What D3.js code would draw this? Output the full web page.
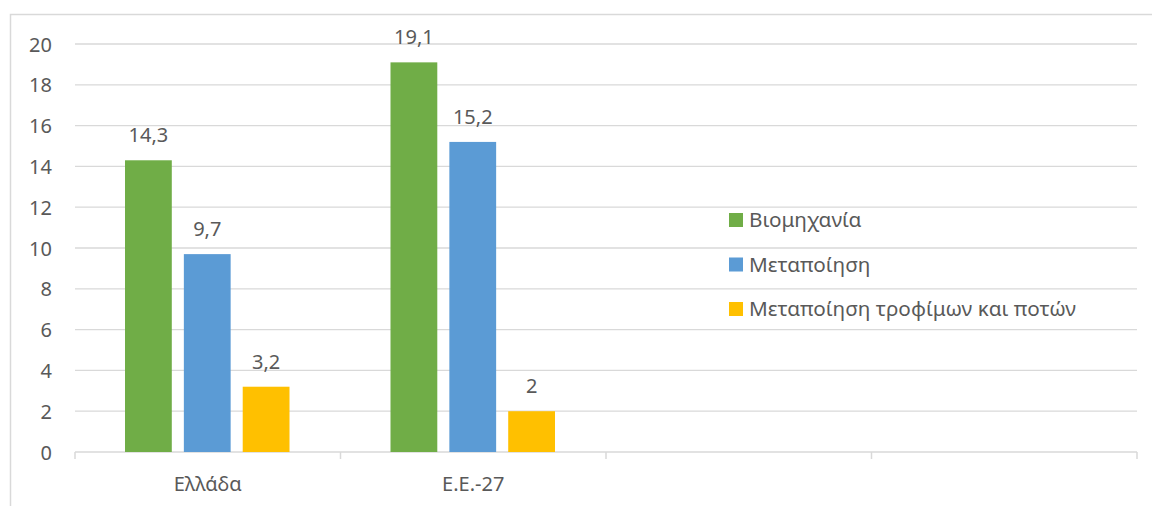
<!DOCTYPE html>
<html>
<head>
<meta charset="utf-8">
<script src="https://cdn.jsdelivr.net/npm/d3@7"></script>
<style type="text/css">
	body { margin:0; background:#fff; }
	svg text { font-family: "Noto Sans", sans-serif; fill:#595959; }
</style>
</head>
<body>
<svg id="chartSvg" width="1152" height="506"></svg>
<script type="text/javascript">
	// categories on the x axis (last two bands are empty in the original)
	var categories = ["Ελλάδα", "Ε.Ε.-27", "", " "];
	var seriesNames = ["Βιομηχανία", "Μεταποίηση", "Μεταποίηση τροφίμων και ποτών"];
	var seriesColors = ["#70ad47", "#5b9bd5", "#ffc000"];
	var biomixania = [14.3, 19.1];
	var metapoiisi = [9.7, 15.2];
	var trofima = [3.2, 2];
	var yTicks = [0, 2, 4, 6, 8, 10, 12, 14, 16, 18, 20];

	var series = [biomixania, metapoiisi, trofima];
	var data = [];
	categories.forEach(function(c, i){
		series.forEach(function(s, j){
			if (s[i] !== undefined) data.push({cat: c, key: seriesNames[j], value: s[i], idx: j});
		});
	});

	var svg = d3.select("#chartSvg");

	// outer chart border
	svg.append("path")
		.attr("d", "M10.5,520 V14.5 H1160")
		.attr("fill", "none")
		.attr("stroke", "#d9d9d9")
		.attr("stroke-width", 1.5);

	var margin = {top: 44, left: 75},
	    width = 1062,
	    height = 408;

	var g = svg.append("g").attr("transform", "translate(" + margin.left + "," + margin.top + ")");

	var x = d3.scaleBand().domain(categories).range([0, width]).paddingInner(0).paddingOuter(0);
	var x1 = d3.scaleBand().domain(seriesNames).range([50, x.bandwidth() - 51]).paddingInner(0.205).paddingOuter(0);
	var y = d3.scaleLinear().domain([0, 20]).range([height, 0]);

	// gridlines
	g.selectAll(".grid")
		.data(yTicks.filter(function(d){ return d > 0; }))
		.enter().append("line")
		.attr("x1", 0).attr("x2", width)
		.attr("y1", function(d){ return y(d); })
		.attr("y2", function(d){ return y(d); })
		.attr("stroke", "#d9d9d9")
		.attr("stroke-width", 1.3);

	// y axis labels
	var yAxis = g.append("g")
		.call(d3.axisLeft(y).tickValues(yTicks).tickSize(0).tickPadding(23));
	yAxis.select(".domain").remove();
	yAxis.selectAll("text").style("font-size", "20px").attr("fill", "#595959").attr("dy", "0.35em");

	// x axis
	var xAxis = g.append("g")
		.attr("transform", "translate(0," + height + ")")
		.call(d3.axisBottom(x).tickSize(0).tickPadding(25));
	xAxis.select(".domain").attr("stroke", "#d9d9d9").attr("stroke-width", 1.5)
		.attr("d", "M0,0H" + width);
	xAxis.selectAll("text").style("font-size", "20px").attr("fill", "#595959");
	xAxis.selectAll(".sep")
		.data(d3.range(categories.length + 1))
		.enter().append("line")
		.attr("class", "sep")
		.attr("x1", function(d){ return d * x.bandwidth(); })
		.attr("x2", function(d){ return d * x.bandwidth(); })
		.attr("y1", 0).attr("y2", 7)
		.attr("stroke", "#d9d9d9").attr("stroke-width", 1.5);

	// bars
	g.selectAll(".bar")
		.data(data)
		.enter().append("rect")
		.attr("class", "bar")
		.attr("x", function(d){ return x(d.cat) + x1(d.key); })
		.attr("y", function(d){ return y(d.value); })
		.attr("width", x1.bandwidth())
		.attr("height", function(d){ return height - y(d.value); })
		.attr("fill", function(d){ return seriesColors[d.idx]; });

	// value labels
	g.selectAll(".lbl")
		.data(data)
		.enter().append("text")
		.attr("class", "lbl")
		.attr("x", function(d){ return x(d.cat) + x1(d.key) + x1.bandwidth() / 2; })
		.attr("y", function(d){ return y(d.value) - 18; })
		.attr("text-anchor", "middle")
		.style("font-size", "20px")
		.text(function(d){ return String(d.value).replace(".", ","); });

	// legend
	var legend = svg.append("g").attr("transform", "translate(729,220)");
	var items = legend.selectAll(".leg")
		.data(seriesNames)
		.enter().append("g")
		.attr("transform", function(d, i){ return "translate(0," + (i * 44.5) + ")"; });
	items.append("rect")
		.attr("x", 0).attr("y", -7).attr("width", 14).attr("height", 14)
		.attr("fill", function(d, i){ return seriesColors[i]; });
	items.append("text")
		.attr("x", 20).attr("y", 0).attr("dy", "0.35em")
		.style("font-size", "20.7px")
		.text(function(d){ return d; });
</script>
</body>
</html>
